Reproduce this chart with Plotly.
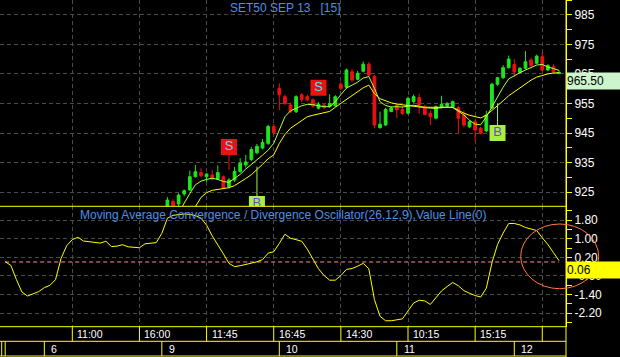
import plotly.graph_objects as go

# ---------------- data ----------------
N_BARS = 100
bar_index = list(range(N_BARS))
first_visible = 29  # earlier candles lie below the visible price range

opens_vis = [919.5, 921.9, 921.0, 924.4, 925.7, 930.2, 931.6, 930.2, 930.8, 929.4,
             930.2, 926.9, 929.1, 932.0, 934.2, 936.0, 938.3, 939.9, 941.5, 947.2,
             960.1, 957.3, 954.5, 952.2, 957.9, 957.3, 956.2, 953.4, 954.5, 953.9,
             954.2, 961.5, 960.5, 965.7, 963.2, 965.9, 968.3, 964.2, 946.8, 947.7,
             952.3, 954.5, 953.0, 951.7, 955.6, 957.0, 953.9, 951.7, 950.0, 953.6,
             954.2, 953.9, 953.6, 951.1, 947.1, 948.8, 946.6, 945.7, 953.4, 961.5,
             963.7, 967.1, 968.2, 965.5, 966.9, 969.7, 968.6, 970.8, 966.3, 967.4,
             965.1]
highs_vis = [923.3, 922.6, 924.6, 925.9, 932.3, 934.2, 933.1, 931.3, 932.5, 934.0,
             930.6, 929.8, 933.5, 936.5, 937.6, 940.3, 941.3, 943.0, 947.8, 948.0,
             961.8, 958.0, 955.3, 957.8, 958.5, 958.0, 956.8, 955.5, 955.0, 958.1,
             957.8, 962.3, 966.8, 966.6, 966.0, 969.2, 969.0, 964.6, 952.2, 953.5,
             954.0, 955.3, 954.2, 957.3, 958.0, 958.3, 954.5, 952.7, 954.3, 957.6,
             955.4, 956.0, 954.2, 952.5, 949.3, 949.5, 947.1, 952.5, 962.0, 964.0,
             968.0, 971.2, 970.0, 967.3, 972.7, 970.5, 971.5, 972.3, 968.3, 968.3,
             966.2]
lows_vis = [919.0, 919.5, 920.0, 923.6, 925.5, 930.0, 929.9, 928.5, 929.0, 929.1,
            926.0, 926.2, 928.5, 931.5, 933.3, 935.5, 937.8, 939.5, 941.0, 944.6,
            952.8, 954.5, 951.8, 951.8, 955.5, 955.8, 953.5, 953.0, 953.0, 953.5,
            953.8, 959.5, 960.0, 962.3, 962.8, 965.5, 964.0, 946.6, 946.5, 947.4,
            952.0, 950.0, 951.0, 951.3, 955.2, 951.5, 951.0, 947.7, 949.6, 953.3,
            953.8, 953.5, 944.9, 946.9, 946.7, 942.1, 944.5, 945.3, 953.0, 961.0,
            963.3, 966.8, 964.0, 965.2, 966.5, 966.8, 968.3, 966.0, 966.0, 965.2,
            964.9]
closes_vis = [922.3, 920.5, 924.0, 925.5, 930.2, 931.9, 930.6, 931.1, 929.4, 931.6,
              926.3, 929.1, 932.0, 934.8, 935.2, 939.4, 940.5, 941.8, 947.2, 945.1,
              957.9, 955.0, 952.2, 957.3, 956.3, 956.2, 954.1, 954.7, 953.6, 955.0,
              957.3, 960.1, 966.3, 962.9, 965.2, 968.3, 964.6, 947.7, 948.0, 953.0,
              953.5, 952.8, 951.6, 956.7, 957.3, 954.5, 951.3, 950.5, 953.9, 954.7,
              955.0, 955.6, 950.0, 947.7, 948.8, 946.0, 944.9, 951.1, 961.5, 963.7,
              967.1, 970.0, 965.7, 966.9, 969.1, 967.8, 971.0, 966.3, 967.8, 965.7,
              965.5]

pad = [None] * first_visible
opens = pad + opens_vis
highs = pad + highs_vis
lows = pad + lows_vis
closes = pad + closes_vis

# moving averages (None where not drawn)
ma_fast_start = 31
ma_fast_vals = [918.0, 921.5, 924.5, 927.5, 928.7, 929.3, 929.7, 929.3, 928.6, 928.3,
                929.5, 931.0, 932.8, 934.3, 935.9, 937.5, 939.2, 941.5, 946.0, 950.5,
                952.5, 953.4, 954.2, 954.7, 954.6, 954.2, 953.9, 953.9, 955.5, 958.0,
                960.2, 961.2, 962.2, 963.6, 964.1, 960.1, 955.6, 954.3, 953.8, 953.9,
                953.8, 954.1, 954.4, 954.1, 953.6, 953.4, 953.3, 953.6, 953.8, 953.6,
                952.4, 951.1, 949.3, 948.0, 947.8, 950.5, 953.8, 957.2, 960.5, 963.3,
                964.5, 965.4, 966.3, 967.2, 968.0, 968.2, 967.3, 966.8, 966.2]
ma_slow_start = 33
ma_slow_vals = [917.5, 920.1, 923.2, 924.8, 925.6, 925.9, 926.2, 926.5, 927.2, 928.3,
                929.6, 930.9, 932.5, 934.4, 936.3, 937.6, 941.5, 944.5, 946.6, 948.0,
                949.4, 950.5, 951.0, 951.5, 951.9, 952.3, 953.7, 955.0, 956.5, 957.8,
                959.2, 960.3, 961.2, 958.3, 956.6, 955.8, 955.2, 954.8, 954.5, 954.2,
                954.0, 953.8, 953.7, 953.7, 953.8, 953.8, 953.9, 953.7, 952.7, 951.7,
                951.0, 950.6, 950.1, 951.0, 952.6, 954.0, 955.9, 957.6, 959.0, 960.4,
                961.7, 962.9, 963.9, 964.5, 965.0, 965.3, 965.4]
ma_fast = [None] * ma_fast_start + ma_fast_vals
ma_slow = [None] * ma_slow_start + ma_slow_vals

macd = [0.01, -0.14, -0.75, -1.29, -1.46, -1.38, -1.27, -1.10, -1.00, -0.76,
        0.16, 0.70, 0.96, 1.06, 0.90, 0.87, 0.84, 0.81, 0.89, 0.66,
        0.68, 0.74, 0.65, 0.62, 0.61, 0.78, 0.82, 0.83, 1.23, 1.88,
        2.00, 2.03, 2.06, 2.04, 1.99, 1.88, 1.58, 1.12, 0.75, 0.35,
        -0.06, -0.20, -0.16, -0.12, -0.05, 0.01, 0.10, 0.38, 0.44, 0.80,
        1.19, 1.02, 0.97, 0.89, 0.55, 0.16, -0.29, -0.58, -0.78, -0.78,
        -0.58, -0.32, -0.28, -0.18, -0.06, -0.29, -1.61, -2.33, -2.52, -2.52,
        -2.49, -2.44, -2.10, -1.76, -1.64, -1.67, -1.82, -1.54, -1.24, -1.05,
        -0.88, -1.02, -1.23, -1.34, -1.44, -1.50, -1.12, -0.04, 0.75, 1.24,
        1.65, 1.65, 1.59, 1.48, 1.40, 1.35, 1.04, 0.75, 0.40, 0.06]
value_line = 0.0

last_price = 965.50
last_macd = 0.06

# signals: bar index, kind, price where the stem ends, price of box centre
sig_index = [40, 45, 56, 88]
sig_kind = ["S", "B", "S", "B"]
sig_stem = [932.5, 933.6, 958.1, 955.0]
sig_box = [940.3, 921.0, 960.3, 945.0]

price_ticks = [985, 975, 965, 955, 945, 935, 925]
price_minor = [990, 980, 970, 960, 950, 940, 930, 920]
macd_ticks = [1.8, 1.0, 0.2, -0.6, -1.4, -2.2]
macd_minor = [2.2, 1.4, 0.6, -0.2, -1.0, -1.8, -2.6]

time_tick_idx = [12, 24, 36, 48, 60, 72, 84, 96]
time_tick_text = ["11:00", "16:00", "11:45", "16:45", "14:30", "10:15", "15:15", ""]
day_start_idx = [0, 7, 28, 49, 70, 91]
day_text = ["", "6", "9", "10", "11", "12"]

title_text = "SET50 SEP 13\u00a0\u00a0\u00a0[15]"
macd_title = "Moving Average Convergence / Divergence Oscillator(26,12,9),Value Line(0)"

# ---------------- styling / layout ----------------
W, H = 620, 357
MR = 54
PLOT_W = W - MR
X_RANGE = [-0.925, 100.24]
PRICE_RANGE = [920.2, 990.0]
MACD_RANGE = [-2.775, 2.388]
SEP1, SEP2, SEP3, SEP4 = 206.3, 326.7, 341.3, 356.0  # px from top

FONT = "Liberation Sans, Arial, sans-serif"
YEL = "#ffff00"
UP = "#1ee61e"
DN = "#ee1111"
GRID = "#4a4a4a"
BLUE = "#4a90e8"
FAST = "#b4ff3c"


def py(px):
    return 1 - px / H


def px_x(idx):
    return (idx - X_RANGE[0]) / (X_RANGE[1] - X_RANGE[0])


fig = go.Figure()

fig.add_trace(go.Candlestick(
    x=bar_index, open=opens, high=highs, low=lows, close=closes,
    increasing=dict(line=dict(color=UP, width=1), fillcolor=UP),
    decreasing=dict(line=dict(color=DN, width=1), fillcolor=DN),
    whiskerwidth=0, xaxis="x", yaxis="y", showlegend=False))

fig.add_trace(go.Scatter(x=bar_index, y=ma_slow, mode="lines",
                         line=dict(color=YEL, width=1), xaxis="x", yaxis="y",
                         showlegend=False))
fig.add_trace(go.Scatter(x=bar_index, y=ma_fast, mode="lines",
                         line=dict(color=FAST, width=1), xaxis="x", yaxis="y",
                         showlegend=False))

# signal stems
for i, k, s, b in zip(sig_index, sig_kind, sig_stem, sig_box):
    fig.add_trace(go.Scatter(x=[i, i], y=[s, b], mode="lines",
                             line=dict(color=DN if k == "S" else "#a0f040", width=1),
                             xaxis="x", yaxis="y", showlegend=False))
# signal boxes
fig.add_trace(go.Scatter(
    x=sig_index, y=sig_box, mode="markers+text", text=sig_kind,
    textposition="middle center",
    textfont=dict(family=FONT, size=13,
                  color=["#55dcf0" if k == "S" else "#7a3cf0" for k in sig_kind]),
    marker=dict(symbol="square", size=16,
                color=[DN if k == "S" else "#a4f046" for k in sig_kind],
                line=dict(width=0)),
    xaxis="x", yaxis="y", showlegend=False))

# MACD
fig.add_trace(go.Scatter(x=bar_index, y=[value_line] * N_BARS, mode="lines",
                         line=dict(color="#ff8c8c", width=1, dash="4px,3px"),
                         xaxis="x2", yaxis="y2", showlegend=False))
fig.add_trace(go.Scatter(x=bar_index, y=macd, mode="lines",
                         line=dict(color=YEL, width=1), xaxis="x2", yaxis="y2",
                         showlegend=False))

common_x = dict(range=X_RANGE, tickvals=time_tick_idx, showticklabels=False, ticks="",
                showgrid=True, gridcolor=GRID, griddash="4px,3px", gridwidth=1,
                zeroline=False, showline=False, fixedrange=True)
common_y = dict(side="right", ticks="outside", ticklen=5, tickcolor=YEL, tickwidth=1,
                showline=True, linecolor=YEL, linewidth=1,
                showgrid=True, gridcolor=GRID, griddash="4px,3px", gridwidth=1,
                zeroline=False, tickfont=dict(family=FONT, size=12, color="white"),
                fixedrange=True)

shapes = []
# horizontal separators
for ypx in (SEP1, SEP2, SEP3, SEP4):
    shapes.append(dict(type="line", xref="paper", yref="paper", x0=0, x1=1,
                       y0=py(ypx), y1=py(ypx), line=dict(color=YEL, width=1)))
# full-height right border
shapes.append(dict(type="line", xref="paper", yref="paper", x0=1, x1=1, y0=0, y1=1,
                   line=dict(color=YEL, width=1)))
# time row separators
for idx in time_tick_idx:
    shapes.append(dict(type="line", xref="paper", yref="paper", x0=px_x(idx), x1=px_x(idx),
                       y0=py(SEP2), y1=py(SEP3), line=dict(color=YEL, width=1)))
# day row separators
for idx in day_start_idx:
    shapes.append(dict(type="line", xref="paper", yref="paper", x0=px_x(idx), x1=px_x(idx),
                       y0=py(SEP3), y1=py(SEP4), line=dict(color=YEL, width=1)))
shapes.append(dict(type="line", xref="paper", yref="paper", x0=1.7 / PLOT_W, x1=1.7 / PLOT_W,
                   y0=py(SEP3), y1=py(SEP4), line=dict(color=YEL, width=1)))
# highlight ellipse
shapes.append(dict(type="circle", xref="paper", yref="paper",
                   x0=520.7 / PLOT_W, x1=598.7 / PLOT_W, y0=py(288.7), y1=py(224.0),
                   line=dict(color="#ff7a3a", width=1)))

annotations = []
annotations.append(dict(text=title_text, xref="paper", yref="paper", x=228 / PLOT_W, y=py(8),
                        xanchor="left", yanchor="middle", showarrow=False,
                        font=dict(family=FONT, size=12, color=BLUE)))
annotations.append(dict(text=macd_title, xref="paper", yref="paper", x=78 / PLOT_W, y=py(214.5),
                        xanchor="left", yanchor="middle", showarrow=False,
                        font=dict(family=FONT, size=12, color=BLUE)))
for idx, t in zip(time_tick_idx, time_tick_text):
    if t:
        annotations.append(dict(text=t, xref="paper", yref="paper", x=px_x(idx), xshift=3,
                                y=py((SEP2 + SEP3) / 2), xanchor="left", yanchor="middle",
                                showarrow=False, font=dict(family=FONT, size=10.5, color="white")))
for idx, t in zip(day_start_idx, day_text):
    if t:
        annotations.append(dict(text=t, xref="paper", yref="paper", x=px_x(idx), xshift=5,
                                y=py((SEP3 + SEP4) / 2), xanchor="left", yanchor="middle",
                                showarrow=False, font=dict(family=FONT, size=10.5, color="white")))
annotations.append(dict(text=f"{last_price:.2f}", xref="paper", yref="y", x=1, y=last_price,
                        xanchor="left", yanchor="top", showarrow=False, width=MR, height=16,
                        align="left", bgcolor="#cdf5cd", borderpad=0,
                        font=dict(family=FONT, size=12, color="black")))
annotations.append(dict(text=f"{last_macd:.2f}", xref="paper", yref="y2", x=1, y=last_macd,
                        xanchor="left", yanchor="top", showarrow=False, width=MR, height=16,
                        align="left", bgcolor=YEL, borderpad=0,
                        font=dict(family=FONT, size=12, color="black")))

fig.update_layout(
    width=W, height=H, margin=dict(l=0, r=MR, t=0, b=0),
    paper_bgcolor="black", plot_bgcolor="black", showlegend=False,
    xaxis=dict(domain=[0, 1], anchor="y", rangeslider=dict(visible=False), **common_x),
    xaxis2=dict(domain=[0, 1], anchor="y2", matches="x", **common_x),
    yaxis=dict(domain=[py(SEP1), 1], anchor="x", range=PRICE_RANGE,
               tickvals=price_ticks, ticktext=[str(v) for v in price_ticks],
               minor=dict(tickvals=price_minor, ticks="outside", ticklen=5, tickcolor=YEL,
                          showgrid=False),
               **common_y),
    yaxis2=dict(domain=[py(SEP2), py(SEP1)], anchor="x2", range=MACD_RANGE,
                tickvals=macd_ticks, ticktext=[f"{v:.2f}" for v in macd_ticks],
                minor=dict(tickvals=macd_minor, ticks="outside", ticklen=5, tickcolor=YEL,
                           showgrid=False),
                **common_y),
    shapes=shapes, annotations=annotations,
)

fig.write_html("out.html")
